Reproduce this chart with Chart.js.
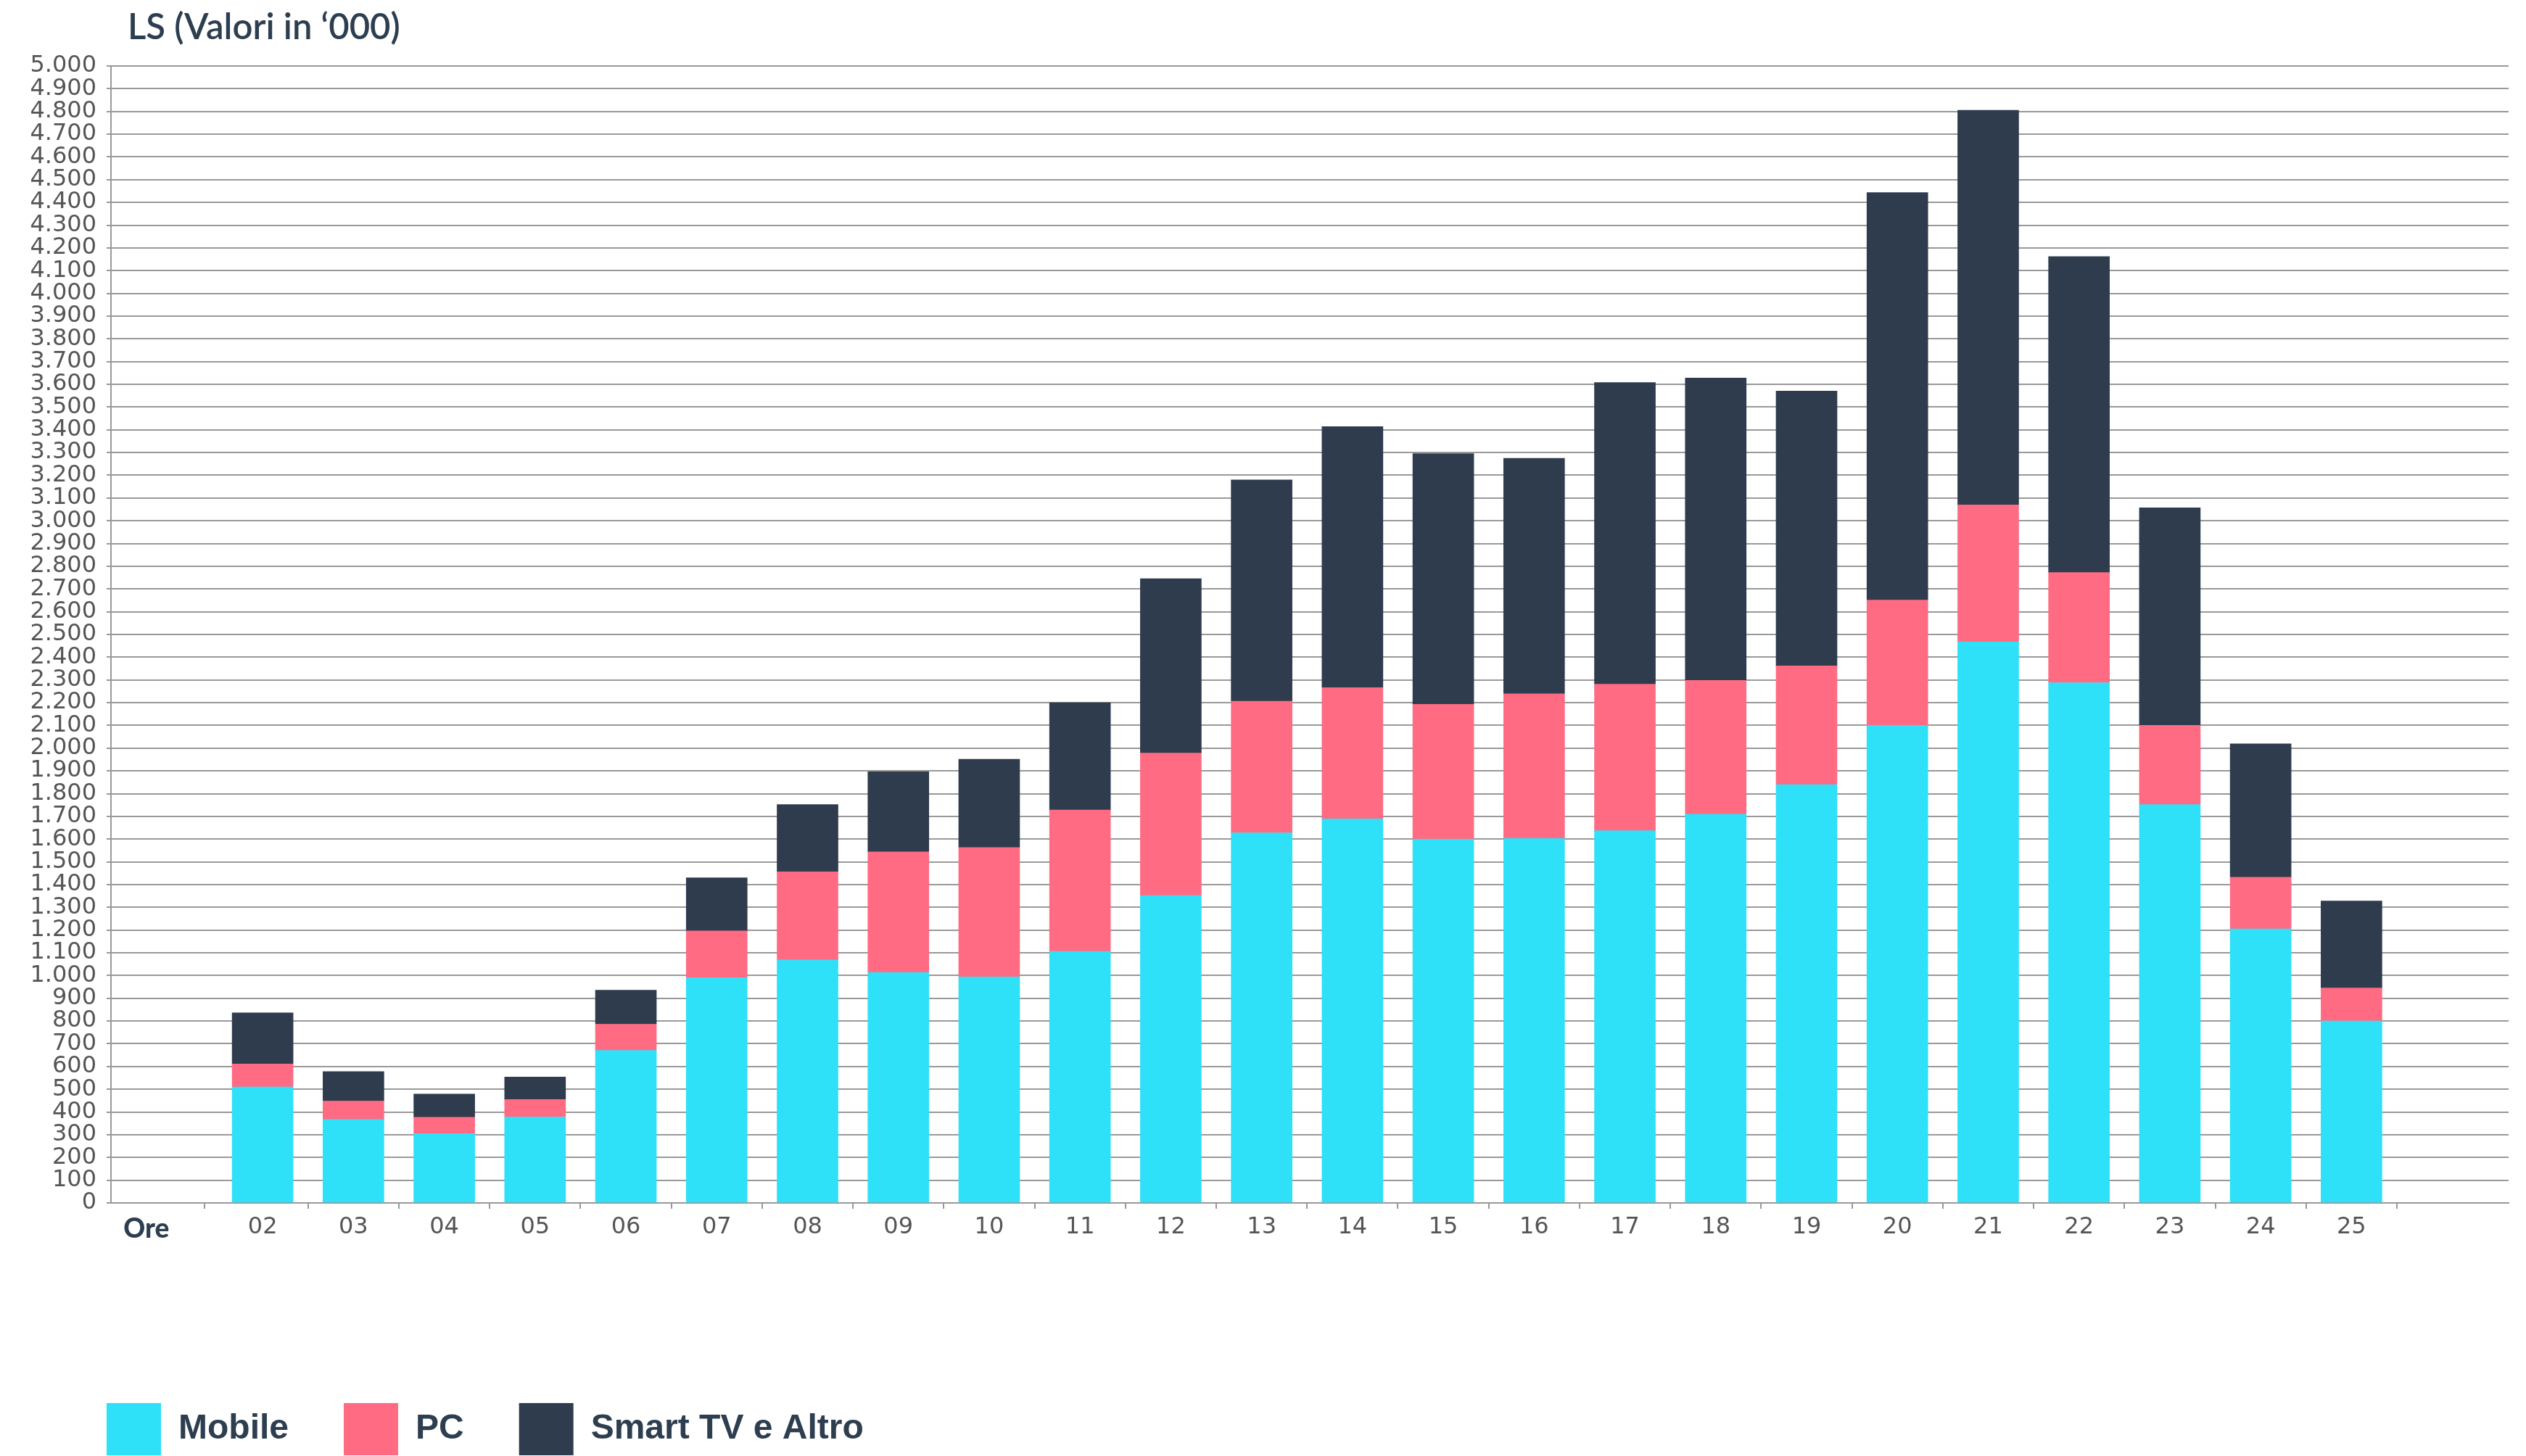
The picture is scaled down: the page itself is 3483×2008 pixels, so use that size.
<!DOCTYPE html>
<html lang="it">
<head>
<meta charset="utf-8">
<title>LS (Valori in ‘000)</title>
<script src="https://cdn.jsdelivr.net/npm/chart.js@4.4.1/dist/chart.umd.min.js"></script>
<style>
  html, body { margin: 0; padding: 0; background: #fff; }
  #wrap { position: relative; width: 3483px; height: 2008px; }
</style>
</head>
<body>
<div id="wrap"><canvas id="lsChart"></canvas></div>
<script>
// Ascolto per ora, valori in migliaia
const title = "LS (Valori in ‘000)";
const hours = ["02", "03", "04", "05", "06", "07", "08", "09", "10", "11", "12", "13",
               "14", "15", "16", "17", "18", "19", "20", "21", "22", "23", "24", "25"];
const mobile  = [510, 367, 305, 378, 671, 990, 1069, 1014, 994, 1106, 1352, 1628,
                 1689, 1600, 1603, 1637, 1710, 1840, 2100, 2467, 2288, 1752, 1205, 800];
const pc      = [101, 81, 72, 77, 115, 206, 387, 530, 569, 622, 626, 578,
                 577, 593, 636, 644, 588, 522, 551, 603, 484, 348, 227, 145];
const smartTv = [225, 130, 102, 99, 150, 234, 296, 352, 388, 472, 767, 974,
                 1148, 1102, 1036, 1327, 1330, 1208, 1792, 1735, 1390, 957, 587, 383];
const axisLabel = "Ore";
const yMax = 5000;
const yStep = 100;

const NAVY = "#2d3e50";
const GRID = "#999999";
const ORE_AT = 0.72; // where the "Ore" label sits on the hour axis

const toPoints = vals => hours.map((h, i) => ({ x: Number(h), y: vals[i] }));
const dots = v => String(v).replace(/\B(?=(\d{3})+(?!\d))/g, ".");

const titlePlugin = {
  id: "titleText",
  afterDraw(chart) {
    const c = chart.ctx;
    c.save();
    c.font = "600 49px Lato";
    c.fillStyle = NAVY;
    c.textBaseline = "alphabetic";
    c.fillText(title, 176, 54);
    c.restore();
  }
};

// legend starts further left than the y axis box
const legendShift = {
  id: "legendShift",
  afterLayout(chart) { chart.legend.left = 71; }
};

new Chart(document.getElementById("lsChart"), {
  type: "bar",
  data: {
    datasets: [
      { label: "Mobile", data: toPoints(mobile), backgroundColor: "#2ee0f8" },
      { label: "PC", data: toPoints(pc), backgroundColor: "#ff6b83" },
      { label: "Smart TV e Altro", data: toPoints(smartTv), backgroundColor: "#2e3c4e" }
    ]
  },
  options: {
    responsive: true,
    maintainAspectRatio: false,
    animation: false,
    barThickness: 84,
    borderWidth: 0,
    layout: { padding: { top: 91, left: 36, right: 24, bottom: -9 } },
    scales: {
      x: {
        type: "linear",
        offset: false,
        stacked: true,
        min: 0.33,
        max: 26.73,
        afterBuildTicks: scale => {
          scale.ticks = [{ value: ORE_AT }].concat(hours.map(h => ({ value: Number(h) })));
        },
        afterFit: scale => { scale.height = 200; },
        grid: {
          drawOnChartArea: false,
          tickLength: 8,
          lineWidth: 2,
          tickColor: ctx => ctx.index === 0 ? "rgba(0,0,0,0)" : GRID
        },
        border: { color: GRID, width: 2 },
        ticks: {
          autoSkip: false,
          maxRotation: 0,
          padding: 6,
          callback: (v, i) => i === 0 ? axisLabel : hours[i - 1],
          color: ctx => ctx.index === 0 ? NAVY : "#555",
          font: ctx => ctx.index === 0
            ? { family: "Lato", weight: "900", size: 37 }
            : { family: "DejaVu Sans", size: 32 }
        }
      },
      y: {
        stacked: true,
        min: 0,
        max: yMax,
        afterFit: scale => { scale.width = 117; },
        grid: { color: GRID, lineWidth: 2, tickLength: 6 },
        border: { color: GRID, width: 2 },
        ticks: {
          stepSize: yStep,
          autoSkip: false,
          padding: 14,
          color: "#555",
          font: { family: "DejaVu Sans", size: 32 },
          callback: v => dots(v)
        }
      }
    },
    plugins: {
      legend: {
        position: "bottom",
        align: "start",
        labels: {
          boxWidth: 75,
          boxHeight: 72,
          padding: 76,
          color: NAVY,
          font: { family: "Liberation Sans", weight: "bold", size: 48 }
        }
      },
      tooltip: { enabled: false }
    }
  },
  plugins: [titlePlugin, legendShift]
});
</script>
</body>
</html>
